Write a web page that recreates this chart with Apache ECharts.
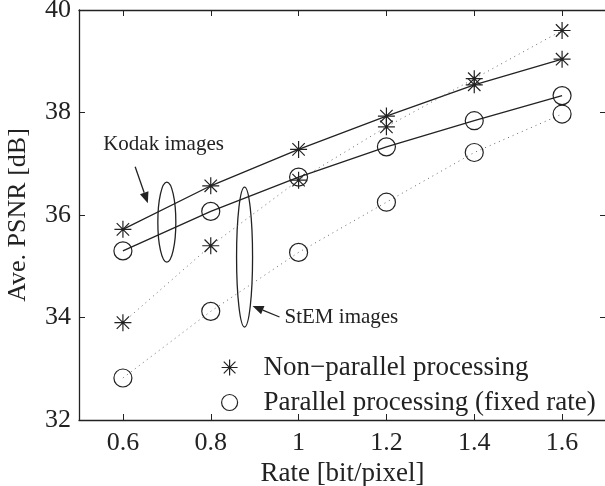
<!DOCTYPE html>
<html>
<head>
<meta charset="UTF-8">
<script src="https://cdn.jsdelivr.net/npm/echarts@6/dist/echarts.min.js"></script>
<style>html,body{margin:0;padding:0;background:#fff}</style>
</head>
<body>
<div id="main" style="width:605px;height:486px;"></div>
<script>
var rates = [0.6, 0.8, 1.0, 1.2, 1.4, 1.6];
var kodakNonPar = [35.72, 36.57, 37.28, 37.93, 38.54, 39.04];
var kodakPar    = [35.30, 36.07, 36.74, 37.33, 37.84, 38.33];
var stemNonPar  = [33.90, 35.40, 36.68, 37.72, 38.66, 39.60];
var stemPar     = [32.82, 34.12, 35.27, 36.25, 37.22, 37.97];
var xTicks = [0.6, 0.8, 1, 1.2, 1.4, 1.6];

var starPath = 'path://M0,-10L0,10M-10,0L10,0M-7.3,-7.3L7.3,7.3M-7.3,7.3L7.3,-7.3';
var ringPath = 'path://M10,0A10,10 0 1,1 -10,0A10,10 0 1,1 10,0Z';
var ink = '#222';
var serif = '"Liberation Serif", "DejaVu Serif", serif';

function pairs(vals) {
  var out = [];
  for (var i = 0; i < rates.length; i++) out.push([rates[i], vals[i]]);
  return out;
}

var markStyle = { color: 'rgba(0,0,0,0)', borderColor: ink, borderWidth: 1.2 };

function mk(name, vals, sym, size, dotted) {
  return {
    name: name, type: 'line', data: pairs(vals),
    symbol: sym, symbolSize: size, showAllSymbol: true,
    itemStyle: markStyle,
    lineStyle: dotted ? { color: '#666', width: 1, type: [1, 4] } : { color: ink, width: 1.3 },
    emphasis: { disabled: true }, z: 3
  };
}

var myChart = echarts.init(document.getElementById('main'));
myChart.setOption({
  animation: false,
  textStyle: { fontFamily: serif },
  grid: { left: 79, top: 10, right: -1, bottom: 66, containLabel: false, outerBoundsMode: 'none' },
  legend: {
    orient: 'vertical', left: 216, top: 349, itemGap: 8,
    itemWidth: 16, itemHeight: 16,
    textStyle: { fontFamily: serif, fontSize: 27, color: ink, padding: [0, 0, 0, 21] },
    data: [
      { name: 'Non\u2212parallel processing', icon: starPath, itemStyle: markStyle },
      { name: 'Parallel processing (fixed rate)', icon: ringPath, itemStyle: markStyle }
    ]
  },
  xAxis: [{
    type: 'value', min: 0.5, max: 1.7,
    name: 'Rate [bit/pixel]', nameLocation: 'middle', nameGap: 35,
    nameTextStyle: { fontFamily: serif, fontSize: 27, color: ink },
    axisLine: { lineStyle: { color: ink, width: 1.3 } },
    axisTick: { inside: true, length: 6, customValues: xTicks, lineStyle: { color: ink } },
    axisLabel: { customValues: xTicks, fontFamily: serif, fontSize: 26, color: ink, margin: 10 },
    splitLine: { show: false }
  }, {
    type: 'value', min: 0.5, max: 1.7, position: 'top',
    axisLine: { show: true, lineStyle: { color: ink, width: 1.3 } },
    axisTick: { show: true, inside: true, length: 6, customValues: xTicks, lineStyle: { color: ink } },
    axisLabel: { show: false }, splitLine: { show: false }
  }],
  yAxis: [{
    type: 'value', min: 32, max: 40, interval: 2,
    name: 'Ave. PSNR [dB]', nameLocation: 'middle', nameGap: 48,
    nameTextStyle: { fontFamily: serif, fontSize: 26, color: ink },
    axisLine: { show: true, lineStyle: { color: ink, width: 1.3 } },
    axisTick: { show: true, inside: true, length: 6, lineStyle: { color: ink } },
    axisLabel: { fontFamily: serif, fontSize: 26, color: ink, margin: 8 },
    splitLine: { show: false }
  }, {
    type: 'value', min: 32, max: 40, interval: 2, position: 'right',
    axisLine: { show: true, lineStyle: { color: ink, width: 1.3 } },
    axisTick: { show: true, inside: true, length: 6, lineStyle: { color: ink } },
    axisLabel: { show: false }, splitLine: { show: false }
  }],
  series: [
    mk('Non\u2212parallel processing', kodakNonPar, starPath, 17, false),
    mk('Parallel processing (fixed rate)', kodakPar, ringPath, 18, false),
    mk('Non\u2212parallel processing', stemNonPar, starPath, 17, true),
    mk('Parallel processing (fixed rate)', stemPar, ringPath, 18, true)
  ]
});

// annotations placed from data coordinates
function px(x, y) { return myChart.convertToPixel({ gridIndex: 0 }, [x, y]); }
var kEll = px(0.7, 35.86), sEll = px(0.877, 35.18);
var kTxt = px(0.555, 37.37), sTxt = px(0.968, 34.01);
function arrow(from, to) {
  var dx = to[0] - from[0], dy = to[1] - from[1], L = Math.sqrt(dx * dx + dy * dy);
  var ux = dx / L, uy = dy / L, h = 11, w = 4.5;
  var bx = to[0] - ux * h, by = to[1] - uy * h;
  return [
    { type: 'line', shape: { x1: from[0], y1: from[1], x2: bx, y2: by }, style: { stroke: ink, lineWidth: 1.3 } },
    { type: 'polygon', shape: { points: [to, [bx - uy * w, by + ux * w], [bx + uy * w, by - ux * w]] }, style: { fill: ink } }
  ];
}
var g = [
  { type: 'ellipse', shape: { cx: kEll[0], cy: kEll[1], rx: 9, ry: 40 }, style: { fill: 'none', stroke: ink, lineWidth: 1.3 } },
  { type: 'ellipse', shape: { cx: sEll[0], cy: sEll[1], rx: 8, ry: 70 }, style: { fill: 'none', stroke: ink, lineWidth: 1.3 } },
  { type: 'text', x: kTxt[0], y: kTxt[1], style: { text: 'Kodak images', font: '21px ' + serif, fill: ink, textVerticalAlign: 'middle' } },
  { type: 'text', x: sTxt[0], y: sTxt[1], style: { text: 'StEM images', font: '21px ' + serif, fill: ink, textVerticalAlign: 'middle' } }
];
g = g.concat(arrow([kTxt[0] + 32, kTxt[1] + 22], [kEll[0] - 19, kEll[1] - 19]));
g = g.concat(arrow([sTxt[0] - 5, sTxt[1]], [sEll[0] + 8, sEll[1] + 49]));
myChart.setOption({ graphic: g });
</script>
</body>
</html>
